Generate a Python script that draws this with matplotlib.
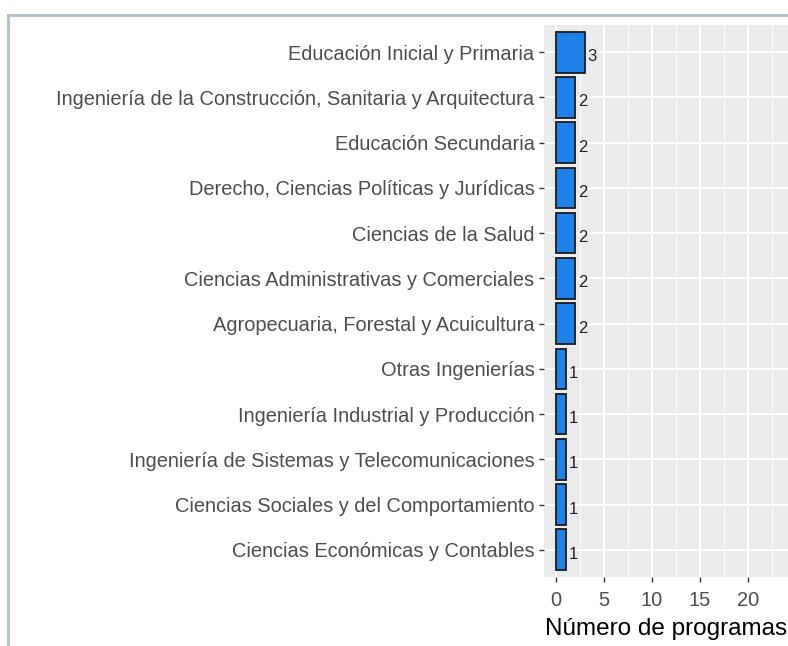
import matplotlib
matplotlib.use("Agg")
import matplotlib.pyplot as plt
from matplotlib.lines import Line2D
import numpy as np

plt.rcParams['font.family'] = ['Liberation Sans', 'DejaVu Sans']

# categories, top to bottom
areas = [
    "Educación Inicial y Primaria",
    "Ingeniería de la Construcción, Sanitaria y Arquitectura",
    "Educación Secundaria",
    "Derecho, Ciencias Políticas y Jurídicas",
    "Ciencias de la Salud",
    "Ciencias Administrativas y Comerciales",
    "Agropecuaria, Forestal y Acuicultura",
    "Otras Ingenierías",
    "Ingeniería Industrial y Producción",
    "Ingeniería de Sistemas y Telecomunicaciones",
    "Ciencias Sociales y del Comportamiento",
    "Ciencias Económicas y Contables",
]
programas = [3, 2, 2, 2, 2, 2, 2, 1, 1, 1, 1, 1]
x_ticks = [0, 5, 10, 15, 20]

W, H = 788, 646
fig = plt.figure(figsize=(W / 100, H / 100), dpi=100)

# panel (extends past the right edge, as in the cropped original)
left, right, top, bottom = 544, 808, 25, 577
ax = fig.add_axes([left / W, 1 - bottom / H, (right - left) / W, (bottom - top) / H])
ax.set_facecolor('#EBEBEB')

n = len(areas)
ypos = np.arange(n)[::-1] + 1
ax.barh(ypos, programas, height=0.9, color='#1E82E8', edgecolor='#1A1A1A', linewidth=1.3, zorder=3)
for y, v in zip(ypos, programas):
    ax.text(v + 0.3, y - 0.1, str(v), va='center', ha='left', fontsize=12, color='#222222', zorder=4)

ax.set_xlim(-1.25, 26.25)
ax.set_ylim(0.4, n + 0.6)
ax.set_xticks(x_ticks)
ax.set_xticks(np.arange(2.5, 26, 5), minor=True)
ax.set_yticks(ypos)
ax.set_yticklabels(areas)
ax.grid(which='major', axis='x', color='white', linewidth=1.4, zorder=0)
ax.grid(which='minor', axis='x', color='white', linewidth=0.7, zorder=0)
ax.grid(which='major', axis='y', color='white', linewidth=1.4, zorder=0)
ax.set_axisbelow(True)
for s in ax.spines.values():
    s.set_visible(False)
ax.tick_params(axis='both', which='major', length=3.8, width=1, color='#333333',
               labelsize=14.4, labelcolor='#4D4D4D')
ax.tick_params(axis='y', which='major', pad=3)
ax.tick_params(axis='x', which='major', pad=6.5)
ax.tick_params(axis='both', which='minor', length=0)

fig.text(545 / W, 1 - 629 / H, "Número de programas", ha='left', va='center',
         fontsize=17.5, color='black')

# light frame around the image
bc = '#B3BDCE'
fig.add_artist(Line2D([8 / W, 1], [1 - 15 / H, 1 - 15 / H], color=bc, linewidth=2, transform=fig.transFigure))
fig.add_artist(Line2D([8 / W, 8 / W], [1 - 15 / H, 0], color=bc, linewidth=2, transform=fig.transFigure))

fig.savefig("out.png", dpi=100)
